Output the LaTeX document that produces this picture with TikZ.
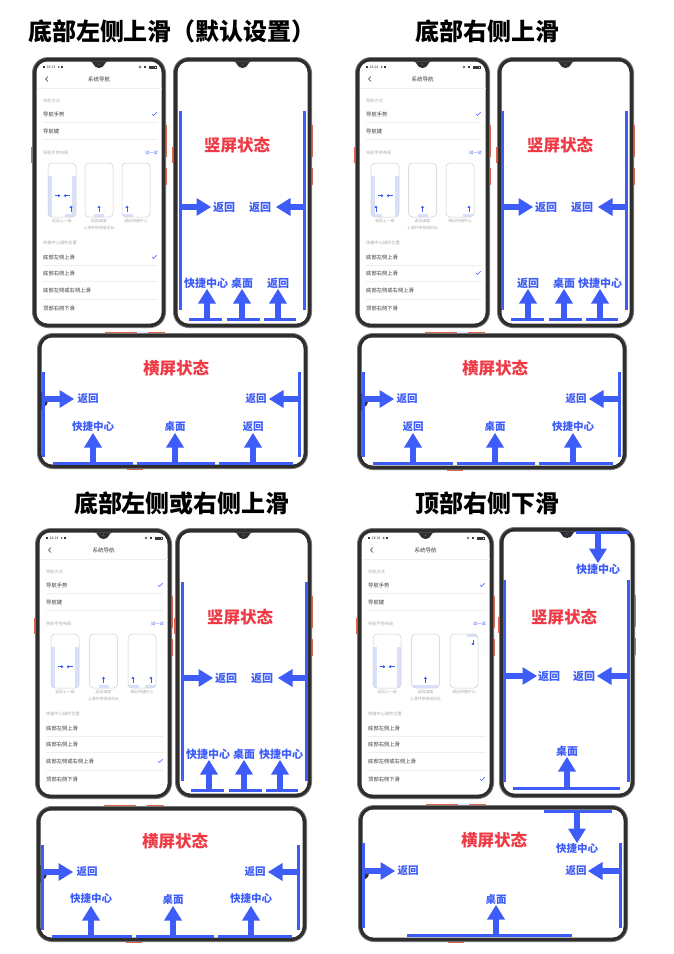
\documentclass[tikz,border=0pt]{standalone}
\usepackage{fontspec}
\setmainfont{Noto Sans CJK SC}
\usetikzlibrary{arrows.meta}
\definecolor{nblue}{HTML}{3E5DF8}
\definecolor{nred}{HTML}{EF3A46}
\definecolor{frmcol}{HTML}{2E2E2E}
\definecolor{rimcol}{HTML}{7A7A7A}
\definecolor{btncol}{HTML}{E2654E}
\definecolor{lblue}{HTML}{D9E1FA}
\definecolor{hgray}{HTML}{ABABAB}
\definecolor{tgray}{HTML}{3A3A3A}
\definecolor{mgray}{HTML}{C8CCD4}
\definecolor{sepcol}{HTML}{EFEFEF}
\definecolor{camcol}{HTML}{3A4E9A}
\tikzset{
  titletxt/.style={font=\fontsize{24}{24}\selectfont\bfseries, inner sep=0pt, text=black},
  statetxt/.style={font=\fontsize{16.5}{16.5}\selectfont\bfseries, inner sep=0pt, text=nred},
  plab/.style={font=\fontsize{11}{11}\selectfont\bfseries, inner sep=0pt, text=nblue},
  llab/.style={font=\fontsize{10.5}{10.5}\selectfont\bfseries, inner sep=0pt, text=nblue},
  stitle/.style={font=\fontsize{5.5}{5.5}\selectfont, inner sep=0pt, text=tgray},
  sitem/.style={font=\fontsize{5.3}{5.3}\selectfont, inner sep=0pt, text=tgray, anchor=west},
  shead/.style={font=\fontsize{4.2}{4.2}\selectfont, inner sep=0pt, text=hgray, anchor=west},
  smini/.style={font=\fontsize{3.9}{3.9}\selectfont, inner sep=0pt, text=hgray},
  stry/.style={font=\fontsize{4.2}{4.2}\selectfont, inner sep=0pt, text=nblue, anchor=east},
  sstat/.style={font=\fontsize{3.6}{3.6}\selectfont, inner sep=0pt, text=tgray, anchor=west},
  chk/.style={draw=nblue, line width=0.55pt, line cap=round, line join=round},
  miniarr/.style={draw=nblue, line width=0.6pt, -{Triangle[length=2.3pt,width=2.8pt]}},
  sepline/.style={draw=sepcol, line width=0.4pt},
}
% blue bars
\newcommand\BarV[3]{\fill[nblue] (#1,#2) rectangle (#1+3.4,#3);}
\newcommand\BarH[3]{\fill[nblue] (#2,#1) rectangle (#3,#1+3.4);}
% big arrows
\newcommand\ArrUp[3]{%
  \fill[nblue] (#1-2.8,#2) rectangle (#1+2.8,#3+14);
  \fill[nblue] (#1-9,#3+14.5) -- (#1,#3) -- (#1+9,#3+14.5) -- cycle;}
\newcommand\ArrDown[3]{%
  \fill[nblue] (#1-2.8,#2) rectangle (#1+2.8,#3-14);
  \fill[nblue] (#1-9,#3-14.5) -- (#1,#3) -- (#1+9,#3-14.5) -- cycle;}
\newcommand\ArrRight[3]{%
  \fill[nblue] (#2,#1-2.8) rectangle (#3-14,#1+2.8);
  \fill[nblue] (#3-14.5,#1-9) -- (#3,#1) -- (#3-14.5,#1+9) -- cycle;}
\newcommand\ArrLeft[3]{%
  \fill[nblue] (#2,#1-2.8) rectangle (#3+14,#1+2.8);
  \fill[nblue] (#3+14.5,#1-9) -- (#3,#1) -- (#3+14.5,#1+9) -- cycle;}
% phone frames
\newcommand\PortFrame[4]{%
 \begin{scope}[shift={(#1,#2)}]
  \fill[btncol] (#3-0.5,68) rectangle (#3+1.3,100);
  \fill[btncol] (#3-0.5,111) rectangle (#3+1.3,128);
  \fill[btncol] (-1.3,90) rectangle (0.5,106);
  \fill[rimcol, rounded corners=16pt] (0,0) rectangle (#3,#4);
  \fill[frmcol, rounded corners=15pt] (1,1) rectangle (#3-1,#4-1);
  \fill[white, rounded corners=11pt] (4.5,4.5) rectangle (#3-4.5,#4-4.5);
  \fill[frmcol] (#3/2-9,4.4) .. controls (#3/2-5,4.4) and (#3/2-6,11) .. (#3/2,11)
     .. controls (#3/2+6,11) and (#3/2+5,4.4) .. (#3/2+9,4.4) -- cycle;
  \fill[camcol] (#3/2,7.3) circle (1.1);
 \end{scope}}
\newcommand\LandFrame[4]{%
 \begin{scope}[shift={(#1,#2)}]
  \fill[btncol] (68,-1.3) rectangle (100,0.5);
  \fill[btncol] (111,-1.3) rectangle (128,0.5);
  \fill[btncol] (90,#4-0.5) rectangle (106,#4+1.3);
  \fill[rimcol, rounded corners=16pt] (0,0) rectangle (#3,#4);
  \fill[frmcol, rounded corners=15pt] (1,1) rectangle (#3-1,#4-1);
  \fill[white, rounded corners=11pt] (4.5,4.5) rectangle (#3-4.5,#4-4.5);
  \fill[frmcol] (4.4,#4/2-9) .. controls (4.4,#4/2-5) and (11,#4/2-6) .. (11,#4/2)
     .. controls (11,#4/2+6) and (4.4,#4/2+5) .. (4.4,#4/2+9) -- cycle;
 \end{scope}}
% mini phone pictures in settings
\newcommand\Mini[2]{%
 \begin{scope}[shift={(#1,106)}]
  \begin{scope}\clip[rounded corners=4pt] (0,0) rectangle (28,54); #2 \end{scope}
  \draw[mgray, line width=0.5pt, rounded corners=4pt] (0,0) rectangle (28,54);
 \end{scope}}
\newcommand\mSides{\fill[lblue] (0,13) rectangle (4,54); \fill[lblue] (24,13) rectangle (28,54);
  \draw[miniarr] (6.5,32.7)--(12.5,32.7); \draw[miniarr] (21.5,32.7)--(15.5,32.7);}
\newcommand\mBL{\fill[lblue] (0,50.7) rectangle (11,54); \draw[miniarr] (5,48.5)--(5,42.5);}
\newcommand\mBR{\fill[lblue] (17,50.7) rectangle (28,54); \draw[miniarr] (23,48.5)--(23,42.5);}
\newcommand\mBC{\fill[lblue] (9,50.7) rectangle (19,54); \draw[miniarr] (14,48.5)--(14,42.5);}
\newcommand\mBW{\fill[lblue] (1,50.7) rectangle (27,54); \draw[miniarr] (14,48.5)--(14,42.5);}
\newcommand\mTR{\fill[lblue] (17,0) rectangle (28,3.3); \draw[miniarr] (23,5.5)--(23,11.5);}
% settings screen
\newcommand\Settings[8]{%
 \PortFrame{#1}{#2}{#3}{271}
 \begin{scope}[shift={(#1,#2)}]
  \fill[tgray] (10.5,8.7) rectangle (13.4,11.3);
  \node[sstat] (\pfx time) at (14.3,10) {#8};
  \fill[tgray] (26.8,10) circle (0.9);
  \fill[tgray] (28.8,8.9) rectangle (31,11.1);
  \draw[tgray, line width=0.3pt] (#3-26,10) circle (1.2);
  \fill[tgray] (#3-22.5,9) rectangle (#3-20.5,11);
  \draw[tgray, line width=0.3pt] (#3-17,8.7) rectangle (#3-10,11.3);
  \fill[tgray] (#3-16.4,9.2) rectangle (#3-11.5,10.8);
  \draw[tgray, line width=0.6pt] (16,19.5)--(13.5,22)--(16,24.5);
  \node[stitle] (\pfx head) at (#3/2,22) {系统导航};
  \draw[sepline] (4.5,31) -- (#3-4.5,31);
  \node[shead] (\pfx h1) at (11,44) {导航方式};
  \node[sitem] (\pfx i1) at (11,57) {导航手势};
  \draw[chk] (#3-14,57) -- (#3-12.4,58.5) -- (#3-9.4,55.2);
  \draw[sepline] (11,65.5) -- (#3-8,65.5);
  \node[sitem] (\pfx i2) at (11,74) {导航键};
  \draw[sepline] (11,82.5) -- (#3-8,82.5);
  \node[shead] (\pfx h2) at (11,96) {导航手势布局};
  \node[stry] (\pfx try) at (#3-8,96) {试一试};
  \Mini{16}{#5}
  \Mini{#3/2-14}{#6}
  \Mini{#3-44}{#7}
  \node[smini] (\pfx m1) at (30,164) {返回上一级};
  \node[smini] (\pfx m2) at (#3/2,164) {返回桌面};
  \node[smini] (\pfx m3) at (#3/2,171) {上滑并停顿进后台};
  \node[smini] (\pfx m4) at (#3-30,164) {调出快捷中心};
  \node[shead] (\pfx h3) at (11,186) {快捷中心操作位置};
  \node[sitem] (\pfx o1) at (11,200) {底部左侧上滑};
  \draw[sepline] (11,208) -- (#3-8,208);
  \node[sitem] (\pfx o2) at (11,216) {底部右侧上滑};
  \draw[sepline] (11,224.5) -- (#3-8,224.5);
  \node[sitem] (\pfx o3) at (11,233) {底部左侧或右侧上滑};
  \draw[sepline] (11,242) -- (#3-8,242);
  \node[sitem] (\pfx o4) at (11,251) {顶部右侧下滑};
  \draw[chk] (#3-14,#4) -- (#3-12.4,#4+1.5) -- (#3-9.4,#4-1.8);
 \end{scope}}

\begin{document}
\begin{tikzpicture}[x=1pt,y=-1pt]
\useasboundingbox (0,0) rectangle (674,954);
\fill[white] (0,0) rectangle (674,954);

% ================= Q1 =================
\node[titletxt] (qatitle) at (172,31) {底部左侧上滑（默认设置）};
\def\pfx{qa}
\Settings{32}{57}{134}{200}{\mSides\mBR}{\mBC}{\mBL}{14:13}
\PortFrame{173}{57}{139}{271}
\BarV{179}{111}{310} \BarV{302.5}{111}{310}
\BarH{317.5}{189}{222} \BarH{317.5}{227}{260} \BarH{317.5}{264}{296}
\node[statetxt] (qaport) at (237,145) {竖屏状态};
\ArrRight{207}{182}{211} \node[plab] (qab1) at (224,207) {返回};
\ArrLeft{207}{303}{276} \node[plab] (qab2) at (260,207) {返回};
\ArrUp{207}{318}{289} \ArrUp{242}{318}{289} \ArrUp{278}{318}{289}
\node[plab] (qau1) at (206,283) {快捷中心};
\node[plab] (qau2) at (242,283) {桌面};
\node[plab] (qau3) at (278,283) {返回};
% landscape
\LandFrame{37}{333}{271}{136}
\BarV{42}{372}{457} \BarV{298}{372}{457}
\BarH{462}{53}{133} \BarH{462}{137}{215} \BarH{462}{219}{293}
\node[statetxt] (qaland) at (176,368) {横屏状态};
\ArrRight{399}{45}{74} \node[llab] (qal1) at (88,399) {返回};
\ArrLeft{399}{298}{269} \node[llab] (qal2) at (256,399) {返回};
\ArrUp{93}{462}{433} \ArrUp{175}{462}{433} \ArrUp{253}{462}{433}
\node[llab] (qal3) at (93,427) {快捷中心};
\node[llab] (qal4) at (175,427) {桌面};
\node[llab] (qal5) at (253,427) {返回};

% ================= Q2 =================
\node[titletxt] (qbtitle) at (487,31) {底部右侧上滑};
\def\pfx{qb}
\Settings{355}{57}{135}{216}{\mSides\mBL}{\mBC}{\mBR}{14:14}
\PortFrame{497}{57}{137}{271}
\BarV{501}{111}{310} \BarV{624.5}{111}{310}
\BarH{317.5}{511}{544} \BarH{317.5}{549}{582} \BarH{317.5}{586}{618}
\node[statetxt] (qbport) at (560,145) {竖屏状态};
\ArrRight{207}{504}{533} \node[plab] (qbb1) at (546,207) {返回};
\ArrLeft{207}{625}{598} \node[plab] (qbb2) at (582,207) {返回};
\ArrUp{528}{318}{289} \ArrUp{564}{318}{289} \ArrUp{600}{318}{289}
\node[plab] (qbu1) at (528,283) {返回};
\node[plab] (qbu2) at (564,283) {桌面};
\node[plab] (qbu3) at (600,283) {快捷中心};
% landscape
\LandFrame{357}{333}{270}{137}
\BarV{362}{372}{457} \BarV{618}{372}{457}
\BarH{462}{373}{453} \BarH{462}{457}{535} \BarH{462}{539}{613}
\node[statetxt] (qbland) at (495,368) {横屏状态};
\ArrRight{399}{365}{394} \node[llab] (qbl1) at (407,399) {返回};
\ArrLeft{399}{618}{589} \node[llab] (qbl2) at (576,399) {返回};
\ArrUp{413}{462}{433} \ArrUp{495}{462}{433} \ArrUp{573}{462}{433}
\node[llab] (qbl3) at (413,427) {返回};
\node[llab] (qbl4) at (495,427) {桌面};
\node[llab] (qbl5) at (573,427) {快捷中心};

% ================= Q3 =================
\node[titletxt] (qctitle) at (182,503) {底部左侧或右侧上滑};
\def\pfx{qc}
\Settings{35}{528}{137}{233}{\mSides}{\mBC}{\mBL\mBR}{14:14}
\PortFrame{175}{528}{137}{270}
\BarV{181}{582}{781} \BarV{304.5}{582}{781}
\BarH{788.5}{191}{224} \BarH{788.5}{229}{262} \BarH{788.5}{266}{298}
\node[statetxt] (qcport) at (240,617) {竖屏状态};
\ArrRight{678}{184}{213} \node[plab] (qcb1) at (226,678) {返回};
\ArrLeft{678}{305}{278} \node[plab] (qcb2) at (262,678) {返回};
\ArrUp{209}{789}{760} \ArrUp{244}{789}{760} \ArrUp{280}{789}{760}
\node[plab] (qcu1) at (208,754) {快捷中心};
\node[plab] (qcu2) at (244,754) {桌面};
\node[plab] (qcu3) at (281,754) {快捷中心};
% landscape
\LandFrame{36}{806}{271}{136}
\BarV{41}{845}{930} \BarV{297}{845}{930}
\BarH{935}{52}{132} \BarH{935}{136}{214} \BarH{935}{218}{292}
\node[statetxt] (qcland) at (175,841) {横屏状态};
\ArrRight{872}{44}{73} \node[llab] (qcl1) at (87,872) {返回};
\ArrLeft{872}{297}{268} \node[llab] (qcl2) at (255,872) {返回};
\ArrUp{91}{935}{906} \ArrUp{173}{935}{906} \ArrUp{251}{935}{906}
\node[llab] (qcl3) at (91,899) {快捷中心};
\node[llab] (qcl4) at (173,899) {桌面};
\node[llab] (qcl5) at (251,899) {快捷中心};

% ================= Q4 =================
\node[titletxt] (qdtitle) at (487,503) {顶部右侧下滑};
\def\pfx{qd}
\Settings{357}{528}{137}{251}{\mSides}{\mBW}{\mTR}{14:14}
\PortFrame{499}{527}{136}{271}
\BarH{531}{576}{630}
\ArrDown{598}{534}{563} \node[plab] (qdt1) at (598,569) {快捷中心};
\BarV{503}{580}{782} \BarV{627}{580}{782}
\node[statetxt] (qdport) at (564,617) {竖屏状态};
\ArrRight{676}{506}{537} \node[plab] (qdb1) at (549,676) {返回};
\ArrLeft{676}{627}{597} \node[plab] (qdb2) at (584,676) {返回};
\BarH{786.5}{513}{620}
\ArrUp{567}{787}{757} \node[plab] (qdu1) at (567,751) {桌面};
% landscape
\LandFrame{358}{805}{270}{137}
\BarH{810}{544}{612}
\ArrDown{577}{812}{843} \node[llab] (qdl0) at (577,849) {快捷中心};
\node[statetxt] (qdland) at (494,840) {横屏状态};
\BarV{362}{843}{928} \BarV{618.5}{843}{928}
\ArrRight{871}{365}{395} \node[llab] (qdl1) at (408,871) {返回};
\ArrLeft{871}{619}{588} \node[llab] (qdl2) at (576,871) {返回};
\BarH{933.5}{407}{572}
\ArrUp{496}{934}{905} \node[llab] (qdl3) at (496,899) {桌面};
\end{tikzpicture}
\end{document}
